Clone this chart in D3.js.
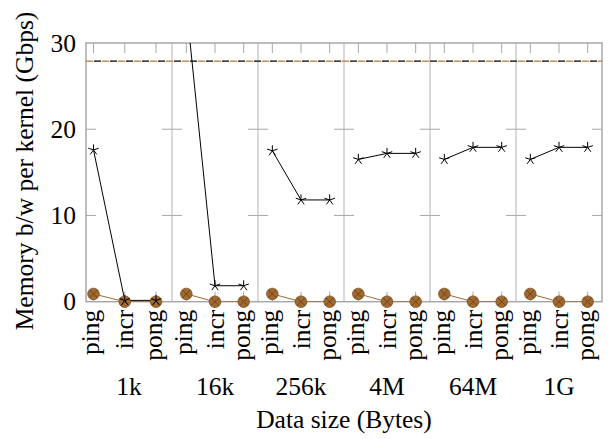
<!DOCTYPE html>
<html>
<head>
<meta charset="utf-8">
<script src="https://cdn.jsdelivr.net/npm/d3@7"></script>
<style>
  body { margin: 0; background: #fff; }
  text { font-family: "Liberation Serif", "DejaVu Serif", serif; fill: #000; }
</style>
</head>
<body>
<div class="chart"></div>
<script>
var sizes = ['1k', '16k', '256k', '4M', '64M', '1G'];
var kernels = ['ping', 'incr', 'pong'];
// black star series, one row per data size (ping, incr, pong)
var starValues = [
  [17.6, 0.15, 0.15],
  [34.3, 1.85, 1.85],
  [17.5, 11.8, 11.8],
  [16.5, 17.2, 17.2],
  [16.5, 17.9, 17.9],
  [16.5, 17.9, 17.9]
];
// brown circle series
var circleValues = [
  [0.9, 0, 0],
  [0.9, 0, 0],
  [0.9, 0, 0],
  [0.9, 0, 0],
  [0.9, 0, 0],
  [0.9, 0, 0]
];
var peakValue = 27.9;
var yTicks = [0, 10, 20, 30];
var innerTicks = [10, 20];

var width = 610, height = 439;
var plotLeft = 86, plotRight = 602, plotTop = 43, plotBottom = 301.7;
var brown = '#a0692f';
var fontSize = '25.5px';

var svg = d3.select('.chart').append('svg')
  .attr('width', width)
  .attr('height', height);

var y = d3.scaleLinear().domain([0, 30]).range([plotBottom, plotTop]);
var xGroup = d3.scaleBand().domain(sizes).range([plotLeft, plotRight]);
var xInner = d3.scalePoint().domain(kernels).range([0, xGroup.bandwidth()]).padding(0.5);
// first panel is laid out a little wider than the others
var xFirst = d3.scalePoint().domain(kernels).range([7.5, 70]);

function xPos(size, kernel) {
  var inner = size === sizes[0] ? xFirst : xInner;
  return xGroup(size) + inner(kernel);
}

svg.append('clipPath').attr('id', 'plot')
  .append('rect')
  .attr('x', plotLeft).attr('y', plotTop)
  .attr('width', plotRight - plotLeft).attr('height', plotBottom - plotTop);

// panel separators
svg.selectAll('.sep')
  .data(sizes.slice(1))
  .enter().append('line')
  .attr('x1', function(d) { return xGroup(d); })
  .attr('x2', function(d) { return xGroup(d); })
  .attr('y1', plotTop).attr('y2', plotBottom)
  .style('stroke', '#cccccc')
  .style('stroke-width', 1.5);

// y ticks on both sides of every panel edge
var edges = sizes.map(function(d) { return xGroup(d); }).concat([plotRight]);
edges.forEach(function(ex, i) {
  svg.selectAll('.yt' + i)
    .data(innerTicks)
    .enter().append('line')
    .attr('x1', i === 0 ? ex : ex - 10)
    .attr('x2', i === edges.length - 1 ? ex : ex + 10)
    .attr('y1', function(d) { return y(d); })
    .attr('y2', function(d) { return y(d); })
    .style('stroke', '#a8a8a8')
    .style('stroke-width', 1);
});

// x ticks top and bottom
var tickData = [];
sizes.forEach(function(s) {
  kernels.forEach(function(k) { tickData.push(xPos(s, k)); });
});
svg.selectAll('.xt')
  .data(tickData)
  .enter().append('g')
  .each(function(d) {
    d3.select(this).append('line')
      .attr('x1', d).attr('x2', d).attr('y1', plotTop).attr('y2', plotTop + 10);
    d3.select(this).append('line')
      .attr('x1', d).attr('x2', d).attr('y1', plotBottom).attr('y2', plotBottom - 10);
  })
  .selectAll('line')
  .style('stroke', '#a8a8a8')
  .style('stroke-width', 1);

// frame
svg.append('rect')
  .attr('x', plotLeft).attr('y', plotTop)
  .attr('width', plotRight - plotLeft).attr('height', plotBottom - plotTop)
  .style('fill', 'none')
  .style('stroke', '#a8a8a8')
  .style('stroke-width', 1.5);

// peak line, brown and black dashes alternating
svg.append('line')
  .attr('x1', plotLeft).attr('x2', plotRight)
  .attr('y1', y(peakValue)).attr('y2', y(peakValue))
  .style('stroke', '#b07a3c').style('stroke-width', 1.3)
  .style('stroke-dasharray', '7,9');
svg.append('line')
  .attr('x1', plotLeft).attr('x2', plotRight)
  .attr('y1', y(peakValue)).attr('y2', y(peakValue))
  .style('stroke', '#000').style('stroke-width', 1.3)
  .style('stroke-dasharray', '7,9')
  .style('stroke-dashoffset', -8);

var line = d3.line()
  .x(function(d) { return d.x; })
  .y(function(d) { return y(d.v); });

function points(values, s, i) {
  return kernels.map(function(k, j) { return { x: xPos(s, k), v: values[i][j] }; });
}

var plot = svg.append('g').attr('clip-path', 'url(#plot)');

// brown series
sizes.forEach(function(s, i) {
  plot.append('path')
    .datum(points(circleValues, s, i))
    .attr('d', line)
    .style('fill', 'none')
    .style('stroke', brown)
    .style('stroke-width', 1);
});

// black series
sizes.forEach(function(s, i) {
  plot.append('path')
    .datum(points(starValues, s, i))
    .attr('d', line)
    .style('fill', 'none')
    .style('stroke', '#000')
    .style('stroke-width', 1);
});

var markers = svg.append('g');
sizes.forEach(function(s, i) {
  points(circleValues, s, i).forEach(function(p) {
    var g = markers.append('g').attr('transform', 'translate(' + p.x + ',' + y(p.v) + ')');
    g.append('circle').attr('r', 5.8)
      .style('fill', brown).style('stroke', '#7a4c1e').style('stroke-width', 0.8);
    g.append('path').attr('d', 'M-4,-4L4,4M-4,4L4,-4')
      .style('stroke', '#5a3815').style('stroke-width', 0.7);
  });
});

// 5-armed star marker
var starPath = d3.range(5).map(function(k) {
  var a = -Math.PI / 2 + k * 2 * Math.PI / 5;
  return 'M0,0L' + (5.5 * Math.cos(a)).toFixed(2) + ',' + (5.5 * Math.sin(a)).toFixed(2);
}).join('');
sizes.forEach(function(s, i) {
  points(starValues, s, i).forEach(function(p) {
    if (p.v > 30) return;
    markers.append('path')
      .attr('transform', 'translate(' + p.x + ',' + y(p.v) + ')')
      .attr('d', starPath)
      .style('stroke', '#000')
      .style('stroke-width', 1)
      .style('fill', 'none');
  });
});

// y tick labels
svg.selectAll('.ylab')
  .data(yTicks)
  .enter().append('text')
  .attr('x', plotLeft - 10)
  .attr('y', function(d) { return y(d); })
  .attr('dy', '0.34em')
  .attr('text-anchor', 'end')
  .style('font-size', fontSize)
  .text(function(d) { return d; });

// kernel labels, rotated; centre the ink box on the tick
var kernelLabels = [];
sizes.forEach(function(s) {
  kernels.forEach(function(k) { kernelLabels.push({ x: xPos(s, k), k: k }); });
});
svg.selectAll('.klab')
  .data(kernelLabels)
  .enter().append('text')
  .attr('transform', function(d) { return 'translate(' + d.x + ',' + (plotBottom + 8) + ') rotate(-90)'; })
  .attr('dy', function(d) { return /[gpqy]/.test(d.k) ? '0.23em' : '0.34em'; })
  .attr('text-anchor', 'end')
  .style('font-size', fontSize)
  .text(function(d) { return d.k; });

// size labels
svg.selectAll('.slab')
  .data(sizes)
  .enter().append('text')
  .attr('x', function(d) { return xGroup(d) + xGroup.bandwidth() / 2; })
  .attr('y', 395)
  .attr('text-anchor', 'middle')
  .style('font-size', fontSize)
  .text(function(d) { return d; });

svg.append('text')
  .attr('x', 344)
  .attr('y', 428)
  .attr('text-anchor', 'middle')
  .style('font-size', fontSize)
  .text('Data size (Bytes)');

svg.append('text')
  .attr('transform', 'translate(33,171) rotate(-90)')
  .attr('text-anchor', 'middle')
  .style('font-size', fontSize)
  .text('Memory b/w per kernel (Gbps)');
</script>
</body>
</html>
